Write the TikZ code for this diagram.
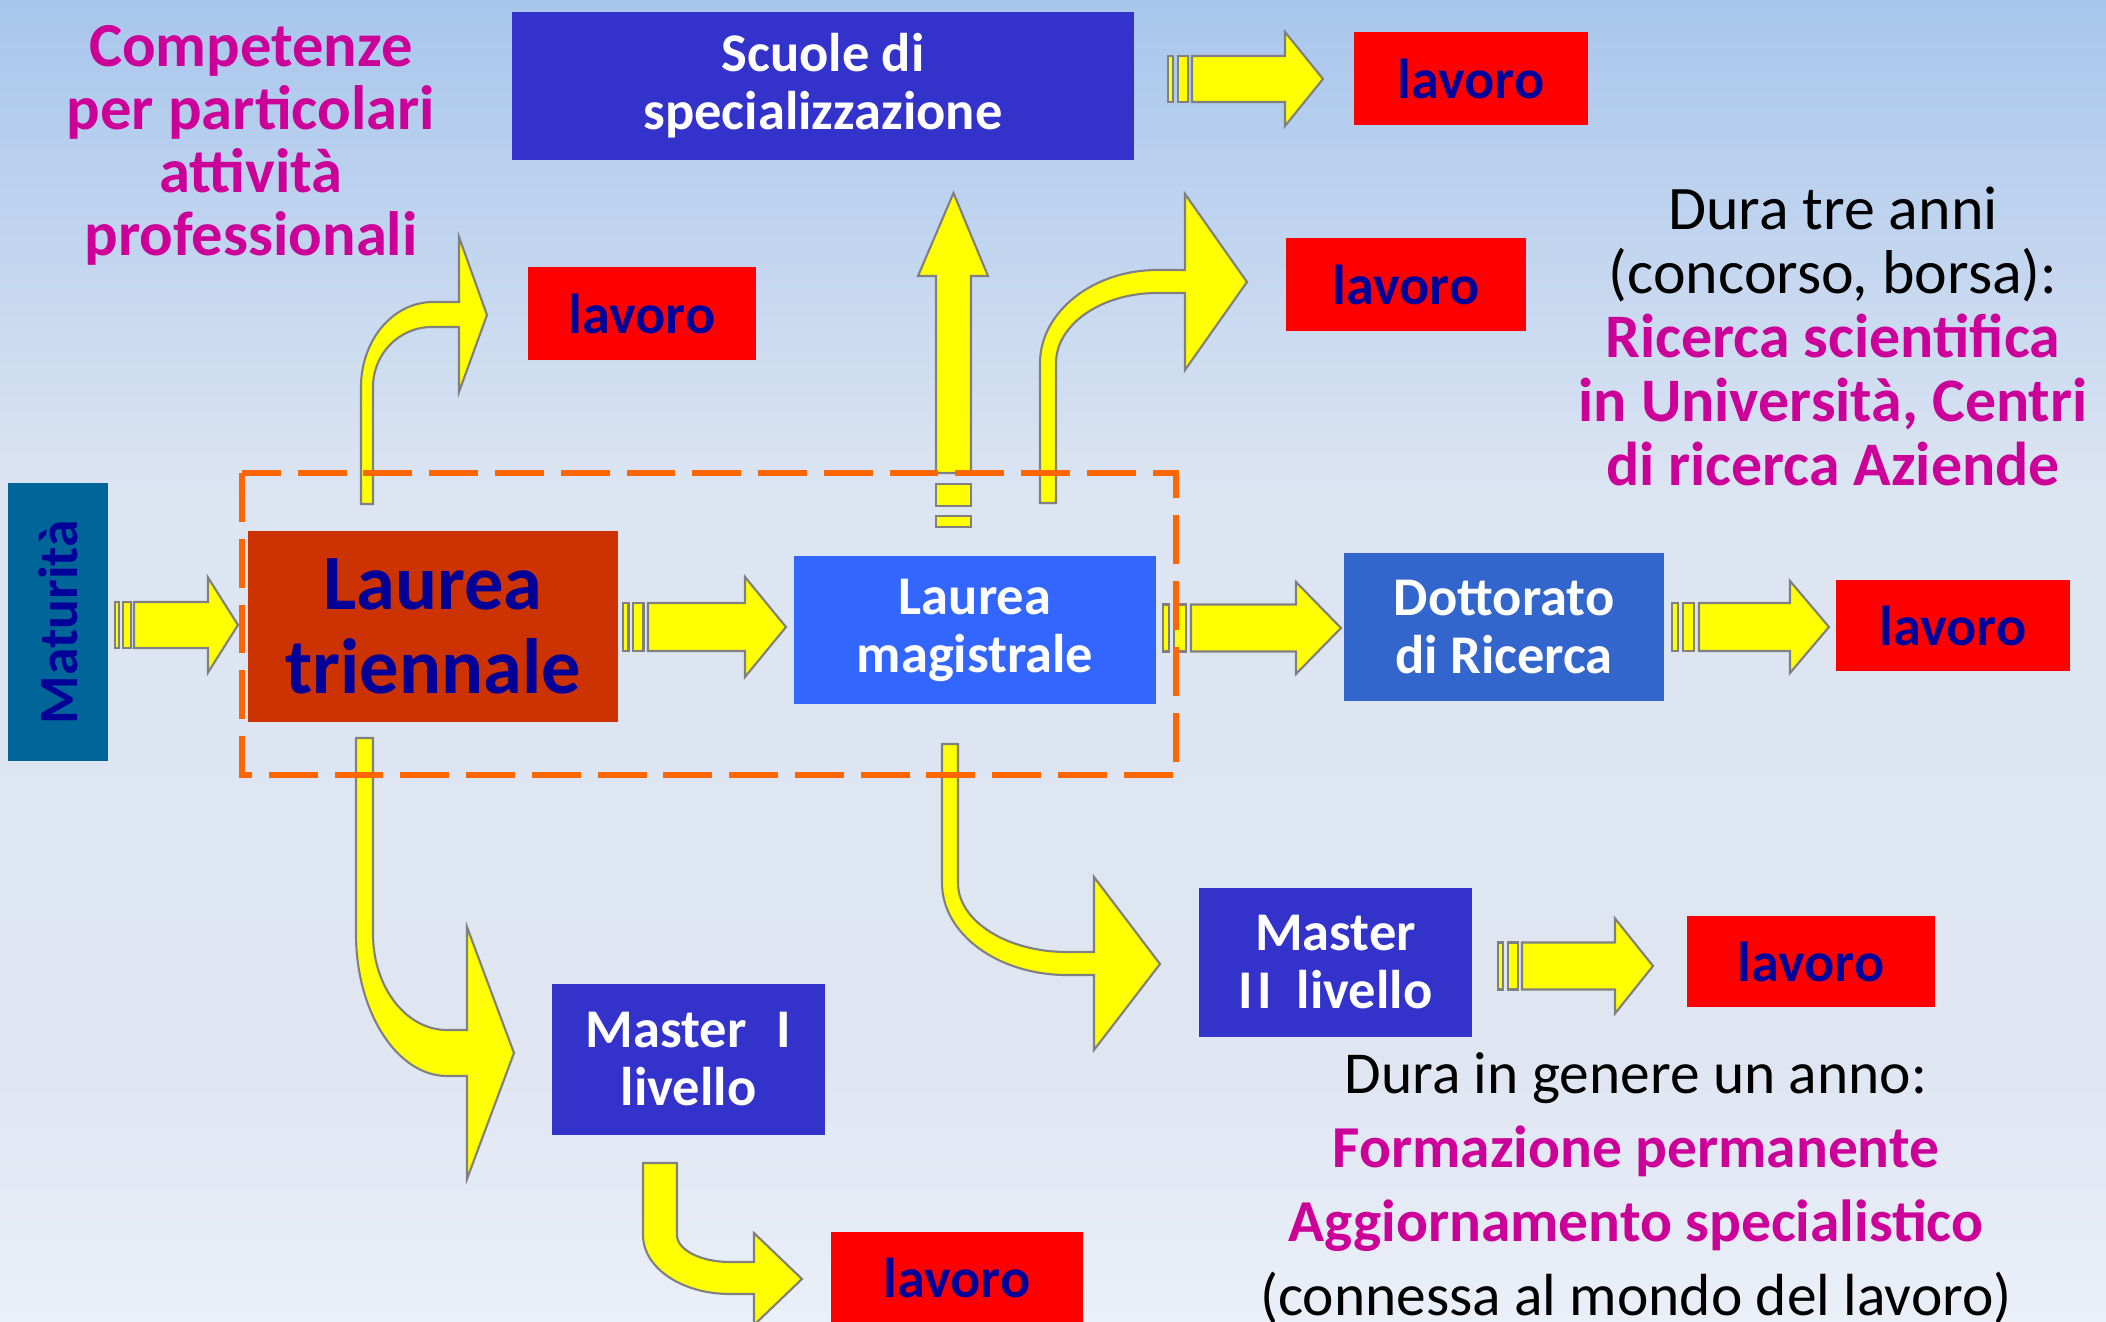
\documentclass[tikz,border=0pt]{standalone}
\usepackage{fontspec}
\setmainfont{Carlito}
\usetikzlibrary{calc}
\definecolor{bgtop}{RGB}{168,198,236}
\definecolor{bgmid}{RGB}{221,229,242}
\definecolor{bgmidb}{RGB}{223,230,242}
\definecolor{bgbot}{RGB}{234,239,248}
\definecolor{mag}{RGB}{204,0,153}
\definecolor{navy}{RGB}{0,0,153}
\definecolor{boxblue}{RGB}{51,51,204}
\definecolor{lmblue}{RGB}{51,102,255}
\definecolor{dottblue}{RGB}{51,102,204}
\definecolor{matblue}{RGB}{0,102,153}
\definecolor{ltred}{RGB}{204,51,0}
\definecolor{lavred}{RGB}{255,0,0}
\definecolor{ayel}{RGB}{255,255,0}
\definecolor{agray}{RGB}{128,128,128}
\definecolor{dorange}{RGB}{255,102,0}
\pgfdeclareverticalshading{bgshade}{100bp}{color(0bp)=(bgbot); color(25bp)=(bgbot); color(35bp)=(bgmidb); color(56bp)=(bgmid); color(75bp)=(bgtop); color(100bp)=(bgtop)}
\tikzset{
  yarrow/.style={fill=ayel, draw=agray, line width=0.6pt, line join=miter},
  dashbox/.style={draw=dorange, line width=1.7pt, dash pattern=on 13.9pt off 4.8pt},
  bluebox/.style={rectangle, inner sep=0pt, align=center, text=white, font=\bfseries\fontsize{15.5}{16.5}\selectfont},
  lavbox/.style={rectangle, inner sep=0pt, fill=lavred, text=navy, font=\bfseries\fontsize{16}{18}\selectfont},
}
\newcommand\stripedarrow[7]{%
  \draw[yarrow] (#1,{#5-#6}) rectangle ({#1+0.22*(#2-#1)},{#5+#6});
  \draw[yarrow] ({#1+0.40*(#2-#1)},{#5-#6}) rectangle ({#1+0.82*(#2-#1)},{#5+#6});
  \draw[yarrow] (#2,{#5-#6}) -- (#3,{#5-#6}) -- (#3,{#5-#7}) -- (#4,#5) -- (#3,{#5+#7}) -- (#3,{#5+#6}) -- (#2,{#5+#6}) -- cycle;}
\begin{document}
\begin{tikzpicture}[x=0.01cm,y=-0.01cm]
\useasboundingbox (0,0) rectangle (2106,1322);
\shade[shading=bgshade] (0,0) rectangle (2106,1322);

% straight striped arrows
\stripedarrow{115}{134}{208}{238}{625}{23}{47.5}
\stripedarrow{623}{648}{745}{786}{627}{24}{50}
\stripedarrow{1163}{1191}{1296}{1341}{628}{23.5}{46}
\stripedarrow{1672}{1699}{1790}{1829}{627}{24}{46}
\stripedarrow{1168}{1192}{1285}{1323}{79}{23}{47}
\stripedarrow{1498}{1522}{1615}{1653}{966}{23.5}{47.5}

% vertical up arrow to Scuole
\draw[yarrow] (936,473) -- (936,276) -- (918,276) -- (953.5,193) -- (988,276) -- (971,276) -- (971,473) -- cycle;
\draw[yarrow] (936,484) rectangle (971,506);
\draw[yarrow] (936,516) rectangle (971,527);

% curved arrows
\draw[yarrow] (361,504) -- (361,387) .. controls (361,340) and (393,302) .. (433,302) -- (459,302) -- (459,237) -- (487,315) -- (459,392) -- (459,327) -- (432,327) .. controls (399,327) and (373,354) .. (373,387) -- (373,504) -- cycle;
\draw[yarrow] (1040,503) -- (1040,363) .. controls (1040,312) and (1093,270) .. (1157,270) -- (1185,270) -- (1185,194) -- (1247,282) -- (1185,370) -- (1185,293) -- (1157,293) .. controls (1101,293) and (1056,325) .. (1056,363) -- (1056,503) -- cycle;
\draw[yarrow] (356,738) -- (373,738) -- (373,934) .. controls (373,987) and (406,1030) .. (447,1030) -- (467,1030) -- (467,927) -- (514,1053) -- (467,1179) -- (467,1076) -- (447,1076) .. controls (397,1076) and (356,1012) .. (356,934) -- cycle;
\draw[yarrow] (942,744) -- (958,744) -- (958,883) .. controls (958,921) and (1007,952) .. (1067,952) -- (1094,952) -- (1094,877) -- (1160,964) -- (1094,1050) -- (1094,975) -- (1067,975) .. controls (998,975) and (942,934) .. (942,883) -- cycle;
\draw[yarrow] (643,1163) -- (677,1163) -- (677,1235) .. controls (677,1250) and (701,1262) .. (730,1262) -- (754,1262) -- (754,1233) -- (802,1279) -- (754,1325) -- (754,1294) -- (730,1294) .. controls (682,1294) and (643,1268) .. (643,1235) -- cycle;

% dashed group
\draw[dashbox] (242,473) rectangle (1176,775);

% boxes
\node[rectangle, fill=matblue, minimum width=1cm, minimum height=2.78cm, inner sep=0pt] (mat) at (58,622) {};
\node[rotate=90, text=navy, font=\bfseries\fontsize{15.8}{18}\selectfont] (matlbl) at (mat.center) {Maturità};
\node[rectangle, fill=ltred, minimum width=3.7cm, minimum height=1.91cm, inner sep=0pt, align=center, text=navy, font=\bfseries\fontsize{22.3}{24}\selectfont] (lt) at (433,626.5) {Laurea\\triennale};
\node[bluebox, fill=lmblue, minimum width=3.62cm, minimum height=1.48cm] (lm) at (975,630) {Laurea\\magistrale};
\node[bluebox, fill=dottblue, minimum width=3.2cm, minimum height=1.48cm] (dott) at (1504,627) {Dottorato\\di Ricerca};
\node[bluebox, fill=boxblue, minimum width=6.22cm, minimum height=1.48cm] (scu) at (823,86) {Scuole di\\specializzazione};
\node[bluebox, fill=boxblue, minimum width=2.73cm, minimum height=1.51cm] (m1) at (688.5,1059.5) {Master\hspace{0.55em}I\\livello};
\node[bluebox, fill=boxblue, minimum width=2.73cm, minimum height=1.49cm] (m2) at (1335.5,962.5) {Master\\I\hspace{0.08em}I\hspace{0.45em}livello};

\node[lavbox, minimum width=2.34cm, minimum height=0.91cm] (lav1) at (1953,625.5) {lavoro};
\node[lavbox, minimum width=2.34cm, minimum height=0.93cm] (lav2) at (1471,78.5) {lavoro};
\node[lavbox, minimum width=2.28cm, minimum height=0.93cm] (lav3) at (642,313.5) {lavoro};
\node[lavbox, minimum width=2.40cm, minimum height=0.93cm] (lav4) at (1406,284.5) {lavoro};
\node[lavbox, minimum width=2.52cm, minimum height=0.92cm] (lav5) at (957,1278) {lavoro};
\node[lavbox, minimum width=2.48cm, minimum height=0.91cm] (lav6) at (1811,961.5) {lavoro};

% texts
\node[align=center, text=mag, font=\bfseries\fontsize{17.8}{17.9}\selectfont] (comp) at (251,145) {Competenze\\per particolari\\attività\\professionali};
\node[align=center, font=\fontsize{17.6}{18.2}\selectfont] (dottnote) at (1833,336) {Dura tre anni\\(concorso, borsa):\\\textbf{\textcolor{mag}{Ricerca scientifica}}\\\textbf{\textcolor{mag}{in Università, Centri}}\\\textbf{\textcolor{mag}{di ricerca Aziende}}};
\node[align=center, font=\fontsize{16.9}{21}\selectfont] (masternote) at (1636,1188) {Dura in genere un anno:\\\textbf{\textcolor{mag}{Formazione permanente}}\\\textbf{\textcolor{mag}{Aggiornamento specialistico}}\\(connessa al mondo del lavoro)};
\end{tikzpicture}
\end{document}
